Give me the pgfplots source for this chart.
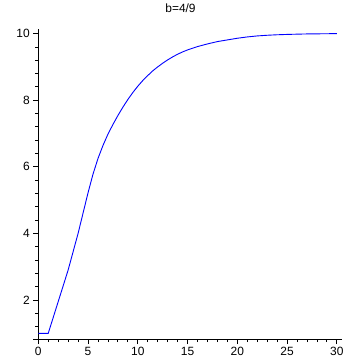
\documentclass[border=0pt]{standalone}
\usepackage{pgfplots}
\pgfplotsset{compat=1.18}
\usepackage{fontspec}
\setmainfont{Liberation Sans}
\begin{document}
\begin{tikzpicture}
\useasboundingbox (0,0) rectangle (361bp,361bp);
\begin{axis}[
  at={(33.3bp,22bp)}, anchor=south west,
  scale only axis, width=308.5bp, height=310.4bp,
  xmin=-0.5, xmax=30.5, ymin=0.83, ymax=10.15,
  axis x line=bottom, axis y line=middle,
  axis line style={-, line width=0.8bp, black},
  xtick={0,5,10,15,20,25,30},
  ytick={2,4,6,8,10},
  minor xtick={1,2,3,4,6,7,8,9,11,12,13,14,16,17,18,19,21,22,23,24,26,27,28,29},
  minor ytick={1.2,1.6,2.4,2.8,3.2,3.6,4.4,4.8,5.2,5.6,6.4,6.8,7.2,7.6,8.4,8.8,9.2,9.6},
  tick align=outside,
  major tick length=5bp, minor tick length=3bp,
  tick style={black, line width=0.8bp},
  tick label style={font=\fontsize{12}{14}\selectfont},
  /pgf/number format/assume math mode=true,
  clip=false,
]
\addplot[color={rgb,255:red,0;green,0;blue,255}, line width=0.9bp] coordinates {
(0,1) (1,1) (2,1.95) (3,2.9) (4,4.0) (5,5.22) (5.5,5.78) (6,6.25) (6.5,6.64)
(7,6.98) (7.5,7.27) (8,7.54) (8.5,7.79) (9,8.02) (9.5,8.23) (10,8.42) (10.5,8.59)
(11,8.74) (11.5,8.88) (12,9.0) (12.5,9.11) (13,9.21) (13.5,9.30) (14,9.38) (14.5,9.45)
(15,9.51) (16,9.61) (17,9.69) (18,9.76) (19,9.81) (20,9.86) (21,9.9) (22,9.93)
(23,9.95) (24,9.965) (25,9.975) (26,9.983) (27,9.99) (28,9.993) (29,9.996) (30,10)
};
\end{axis}
\node[anchor=base, font=\fontsize{12}{14}\selectfont] at (180.5bp,348bp) {b=4/9};
\end{tikzpicture}
\end{document}
